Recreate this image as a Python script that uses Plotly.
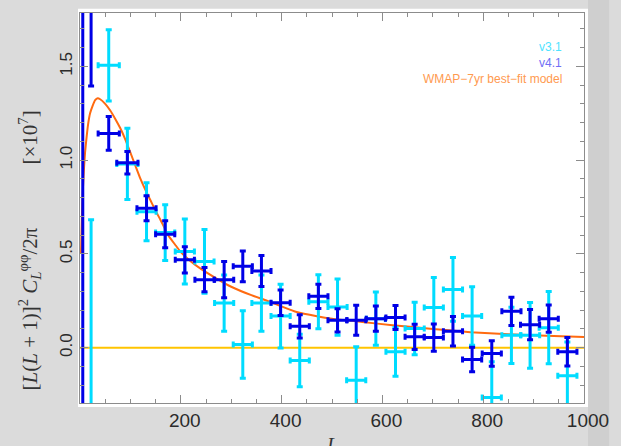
import plotly.graph_objects as go

# ---------------- data ----------------
L_bins = [57, 94, 132, 169, 208, 247, 286, 323, 360, 398, 436, 473, 511,
          548, 587, 626, 664, 702, 740, 778, 817, 856, 893, 930, 967]
L_halfwidth = [21, 21, 19, 19, 19, 19, 19, 19, 19, 19, 19, 19, 19,
               19, 19, 19, 19, 19, 19, 19, 19, 19, 19, 19, 19]

v41_y = [1.143, 0.987, 0.744, 0.605, 0.469, 0.363, 0.363, 0.434, 0.409, 0.240,
         0.114, 0.274, 0.146, 0.146, 0.155, 0.161, 0.058, 0.054, 0.088, -0.063,
         -0.031, 0.194, 0.123, 0.155, -0.022]
v41_err = [0.090, 0.060, 0.067, 0.072, 0.070, 0.065, 0.097, 0.082, 0.083, 0.068,
           0.062, 0.065, 0.062, 0.080, 0.067, 0.064, 0.067, 0.073, 0.079, 0.065,
           0.068, 0.075, 0.081, 0.073, 0.076]

v31_y = [1.506, 0.980, 0.725, 0.614, 0.513, 0.460, 0.238, 0.017, 0.238, 0.169,
         -0.068, 0.245, 0.217, -0.173, 0.155, -0.022, 0.102, 0.214, 0.311, 0.169,
         -0.265, 0.066, 0.066, 0.107, -0.150]
v31_err = [0.190, 0.190, 0.155, 0.149, 0.173, 0.170, 0.150, 0.180, 0.150, 0.170,
           0.140, 0.144, 0.150, 0.178, 0.142, 0.130, 0.140, 0.160, 0.170, 0.156,
           0.190, 0.150, 0.175, 0.193, 0.180]

# lowest-L bins, whose central values fall outside the plotted range
v41_low_L = [5.5, 22]
v41_low_y = [2.5, 2.2]
v41_low_plus = [0.0, 0.0]
v41_low_minus = [3.0, 0.804]
v31_low_L = [22]
v31_low_y = [-0.6]
v31_low_plus = [1.283]
v31_low_minus = [0.5]

# WMAP-7yr best-fit model curve
model_L = [2, 4, 6, 8, 10, 13, 16, 20, 25, 30, 35, 40, 50, 60, 70, 80, 90, 100,
           110, 120, 130, 140, 150, 160, 175, 190, 200, 220, 240, 270, 300, 340,
           370, 400, 430, 470, 500, 560, 620, 700, 775, 850, 925, 1000]
model_y = [0.50, 0.72, 0.86, 0.96, 1.04, 1.12, 1.19, 1.25, 1.29, 1.32, 1.33, 1.325,
           1.30, 1.265, 1.22, 1.17, 1.11, 1.04, 0.97, 0.90, 0.84, 0.785, 0.73, 0.68,
           0.60, 0.545, 0.51, 0.46, 0.42, 0.37, 0.325, 0.28, 0.252, 0.22, 0.19,
           0.168, 0.155, 0.137, 0.12, 0.10, 0.083, 0.072, 0.064, 0.057]

zero_L = [0, 1000]
zero_y = [0, 0]

x_ticks = [200, 400, 600, 800, 1000]
y_ticks = [0.0, 0.5, 1.0, 1.5]
y_ticktext = ["0.0", "0.5", "1.0", "1.5"]

# ---------------- styles ----------------
BLUE = "#0000e6"
CYAN = "#00dcff"
ORANGE = "#ff6a10"
YELLOW = "#ffc400"

fig = go.Figure()

fig.add_trace(go.Scatter(x=zero_L, y=zero_y, mode="lines",
                         line=dict(color=YELLOW, width=2), showlegend=False))
fig.add_trace(go.Scatter(x=model_L, y=model_y, mode="lines", line_shape="spline",
                         line=dict(color=ORANGE, width=2, smoothing=0.5), showlegend=False))


def err_trace(x, y, xe, yplus, yminus, color):
    return go.Scatter(
        x=x, y=y, mode="markers",
        marker=dict(size=1, color="rgba(0,0,0,0)"),
        error_x=dict(type="data", array=xe, color=color, thickness=3, width=3),
        error_y=dict(type="data", symmetric=False, array=yplus, arrayminus=yminus,
                     color=color, thickness=3, width=3),
        showlegend=False)


fig.add_trace(err_trace(v31_low_L, v31_low_y, [0], v31_low_plus, v31_low_minus, CYAN))
fig.add_trace(err_trace(L_bins, v31_y, L_halfwidth, v31_err, v31_err, CYAN))
fig.add_trace(err_trace(v41_low_L, v41_low_y, [0, 0], v41_low_plus, v41_low_minus, BLUE))
fig.add_trace(err_trace(L_bins, v41_y, L_halfwidth, v41_err, v41_err, BLUE))

axis_common = dict(
    showline=True, linecolor="#8c8c8c", linewidth=1, mirror="allticks",
    ticks="inside", tickcolor="#8c8c8c", ticklen=8, tickwidth=1,
    showgrid=False, zeroline=False,
)

fig.update_xaxes(range=[0, 1000], tickvals=x_ticks, ticklabelshift=4,
                 ticklabeloverflow="allow",
                 tickfont=dict(family="Liberation Sans, Arial", size=19, color="#2b2b2b"),
                 minor=dict(ticks="inside", dtick=50, ticklen=4, tickcolor="#8c8c8c", showgrid=False),
                 **axis_common)
fig.update_yaxes(range=[-0.295, 1.785], tickvals=y_ticks, ticktext=y_ticktext,
                 tickangle=-90,
                 tickfont=dict(family="Liberation Sans, Arial", size=17, color="#2b2b2b"),
                 minor=dict(ticks="inside", dtick=0.1, ticklen=4, tickcolor="#8c8c8c", showgrid=False),
                 **axis_common)

gap = "\u00a0" * 12
annotations = [
    dict(x=960, y=1.606, xref="x", yref="y", text="v3.1", showarrow=False,
         xanchor="right", yanchor="middle",
         font=dict(family="Liberation Sans, Arial", size=12, color="#4fe3ff")),
    dict(x=960, y=1.521, xref="x", yref="y", text="v4.1", showarrow=False,
         xanchor="right", yanchor="middle",
         font=dict(family="Liberation Sans, Arial", size=12, color="#6f6ff5")),
    dict(x=960, y=1.431, xref="x", yref="y", text="WMAP\u22127yr best\u2212fit model",
         showarrow=False, xanchor="right", yanchor="middle",
         font=dict(family="Liberation Sans, Arial", size=12, color="#ff9a4f")),
    # y-axis title
    dict(x=-0.1, y=0.026, xref="paper", yref="paper", textangle=-90,
         text="[<i>L</i>(<i>L</i> + 1)]<sup>2</sup> <i>C</i><sub><i>L</i></sub><sup>\u03c6\u03c6</sup>/2\u03c0"
              + gap + "[\u00d710<sup>7</sup>]",
         showarrow=False, xanchor="center", yanchor="bottom",
         font=dict(family="Liberation Serif, Times New Roman", size=21, color="#333333")),
    # x-axis title
    dict(x=0.5, y=-0.075, xref="paper", yref="paper", text="<i>L</i>", showarrow=False,
         xanchor="center", yanchor="top",
         font=dict(family="Liberation Serif, Times New Roman", size=20, color="#333333")),
]

fig.update_layout(
    width=621, height=446,
    margin=dict(l=80, r=24, t=12, b=43),
    paper_bgcolor="#dbdbdb", plot_bgcolor="white",
    annotations=annotations,
    shapes=[
        dict(type="rect", xref="paper", yref="paper", layer="below",
             x0=1.008, x1=1.05, y0=-0.12, y1=1.04,
             fillcolor="#cfcfcf", line=dict(width=0)),
        dict(type="rect", xref="paper", yref="paper", layer="below",
             x0=-0.004, x1=1.008, y0=-0.01, y1=1.011,
             fillcolor="white", line=dict(width=0)),
    ],
    showlegend=False,
)

fig.write_html("out.html")
